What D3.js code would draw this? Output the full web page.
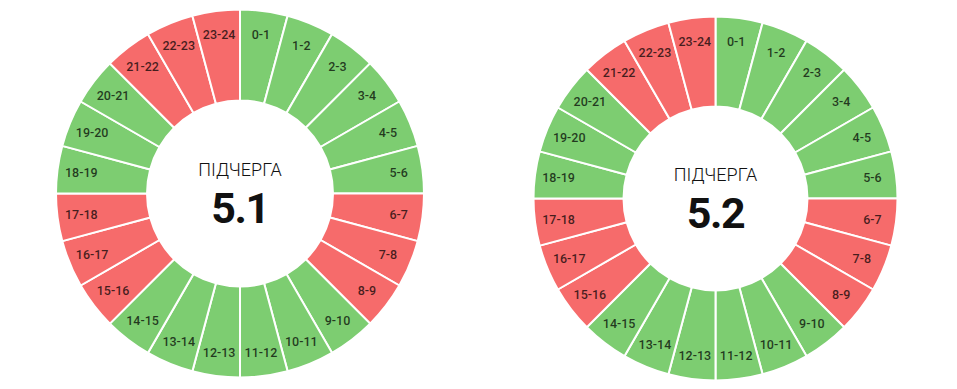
<!DOCTYPE html>
<html>
<head>
<meta charset="utf-8">
<script src="https://cdn.jsdelivr.net/npm/d3@7"></script>
<style>
  body { margin: 0; background: #fff; }
  svg { display: block; }
</style>
</head>
<body>
<svg id="chart" width="957" height="389"></svg>
<script>
// hour slots
var hours = ["0-1","1-2","2-3","3-4","4-5","5-6","6-7","7-8","8-9","9-10","10-11","11-12",
             "12-13","13-14","14-15","15-16","16-17","17-18","18-19","19-20","20-21","21-22","22-23","23-24"];

// 1 = power off, 0 = power on
var off51 = [0,0,0,0,0,0,1,1,1,0,0,0,0,0,0,1,1,1,0,0,0,1,1,1];
var off52 = [0,0,0,0,0,0,1,1,1,0,0,0,0,0,0,1,1,1,0,0,0,1,1,1];

var queues = ["5.1", "5.2"];
var queueData = [off51, off52];

var svg = d3.select("#chart");

var color = d3.scaleOrdinal()
    .domain([0, 1])
    .range(["#7dcd71", "#f66b6b"]);

var layouts = [
    {cx: 240, cy: 193.5, r: 184, inner: 93},
    {cx: 715.5, cy: 198.5, r: 182, inner: 92}
];

var pie = d3.pie().value(function () { return 1; }).sort(null);

queues.forEach(function (q, qi) {
    var lay = layouts[qi];
    var g = svg.append("g")
        .attr("transform", "translate(" + lay.cx + "," + lay.cy + ")");

    var arc = d3.arc()
        .innerRadius(lay.inner)
        .outerRadius(lay.r);

    var labelArc = d3.arc()
        .innerRadius(lay.r * 0.87)
        .outerRadius(lay.r * 0.87);

    var slices = pie(hours.map(function (h, i) {
        return {hour: h, off: queueData[qi][i]};
    }));

    g.selectAll("path")
        .data(slices)
        .enter().append("path")
        .attr("d", arc)
        .attr("fill", function (d) { return color(d.data.off); })
        .attr("stroke", "#fff")
        .attr("stroke-width", 2);

    g.selectAll("text.lbl")
        .data(slices)
        .enter().append("text")
        .attr("class", "lbl")
        .attr("transform", function (d) { return "translate(" + labelArc.centroid(d) + ")"; })
        .attr("text-anchor", "middle")
        .attr("dy", "0.35em")
        .style("font-family", "Roboto, 'Noto Sans', sans-serif")
        .style("font-size", "12.5px")
        .style("font-weight", 500)
        .style("fill", "rgba(0,0,0,0.72)")
        .text(function (d) { return d.data.hour; });

    g.append("text")
        .attr("text-anchor", "middle")
        .attr("y", -18)
        .style("font-family", "Roboto, 'Noto Sans', sans-serif")
        .style("font-size", "18px")
        .style("font-weight", 300)
        .style("fill", "#111")
        .text("ПІДЧЕРГА");

    g.append("text")
        .attr("text-anchor", "middle")
        .attr("y", 29)
        .style("font-family", "Roboto, 'Noto Sans', sans-serif")
        .style("font-size", "43px")
        .style("font-weight", 700)
        .style("letter-spacing", "-1.5px")
        .style("fill", "#111")
        .text(q);
});
</script>
</body>
</html>
